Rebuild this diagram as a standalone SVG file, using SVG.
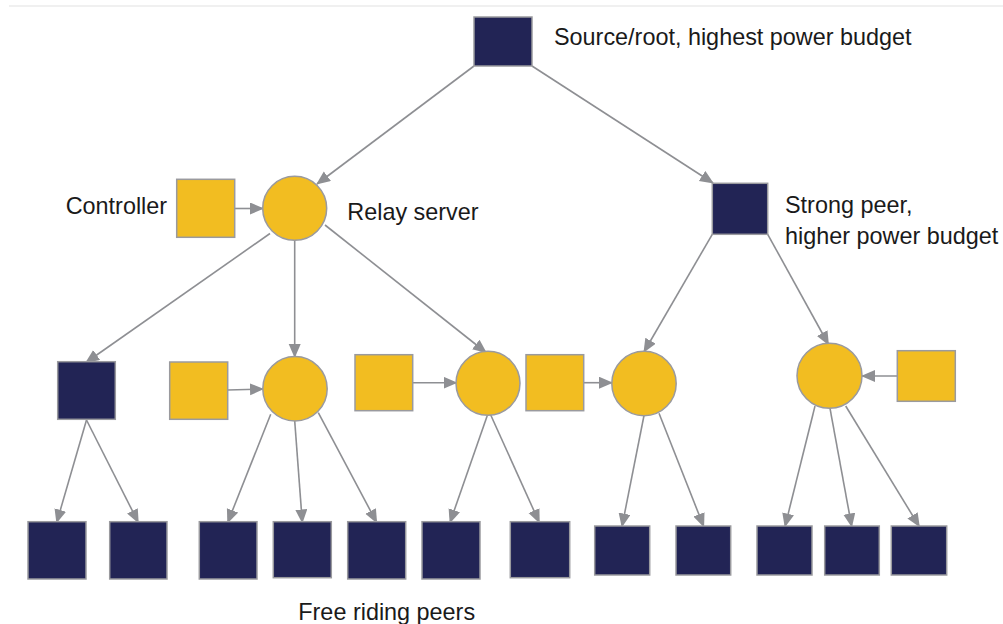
<svg xmlns="http://www.w3.org/2000/svg" width="1003" height="624" viewBox="0 0 1003 624">
  <style>
    .navy { fill: #222455; stroke: #9a9a9e; stroke-width: 1.5; }
    .gold { fill: #f2bd21; stroke: #9a9a9e; stroke-width: 1.5; }
    .edge { fill: none; stroke: #8e8f93; stroke-width: 1.6; marker-end: url(#arrow); }
    .label { font-family: "Liberation Sans", Arial, sans-serif; font-size: 23.4px; fill: #1a1a1a; }
  </style>
  <defs>
    <marker id="arrow" markerUnits="userSpaceOnUse" markerWidth="15" markerHeight="13" refX="13" refY="6" orient="auto">
      <path d="M0,0 L14,6 L0,12 z" fill="#8e8f93"/>
    </marker>
  </defs>

  <rect width="1003" height="624" fill="#ffffff"/>
  <line x1="9" y1="6" x2="1003" y2="6" stroke="#f0f0f0" stroke-width="2"/>

  <!-- connectors -->
  <g id="connectors">
    <!-- from the root -->
    <line class="edge" x1="474" y1="66" x2="317" y2="184"/>
    <line class="edge" x1="532" y1="66" x2="713" y2="183"/>
    <!-- controllers into relays -->
    <line class="edge" x1="234.7" y1="208.5" x2="263" y2="208.5"/>
    <line class="edge" x1="227.7" y1="390" x2="263" y2="389"/>
    <line class="edge" x1="412.7" y1="382.7" x2="456.5" y2="382.7"/>
    <line class="edge" x1="583.7" y1="382.7" x2="612" y2="382.7"/>
    <line class="edge" x1="897.3" y1="376" x2="862" y2="376"/>
    <!-- relay server fan-out -->
    <line class="edge" x1="270" y1="233.5" x2="86" y2="362.5"/>
    <line class="edge" x1="294.7" y1="240.5" x2="294.7" y2="357"/>
    <line class="edge" x1="325" y1="225" x2="486" y2="352.5"/>
    <!-- strong peer fan-out -->
    <line class="edge" x1="712.3" y1="234.3" x2="644" y2="352"/>
    <line class="edge" x1="767.7" y1="234.3" x2="828.5" y2="344.5"/>
    <!-- down to the free riding peers -->
    <line class="edge" x1="86.5" y1="420" x2="56.7" y2="522.5"/>
    <line class="edge" x1="86.5" y1="420" x2="138.3" y2="522.5"/>
    <line class="edge" x1="270.7" y1="414.3" x2="227.7" y2="522.5"/>
    <line class="edge" x1="294.7" y1="420.7" x2="302.3" y2="522.5"/>
    <line class="edge" x1="318.3" y1="412.7" x2="376.7" y2="522.5"/>
    <line class="edge" x1="487.3" y1="415.5" x2="450" y2="522.5"/>
    <line class="edge" x1="490.5" y1="414.5" x2="539.3" y2="522.5"/>
    <line class="edge" x1="644" y1="415.5" x2="622" y2="526.5"/>
    <line class="edge" x1="659" y1="413.3" x2="703.7" y2="526.5"/>
    <line class="edge" x1="815" y1="406" x2="785" y2="526.5"/>
    <line class="edge" x1="830" y1="408.3" x2="851.7" y2="526.5"/>
    <line class="edge" x1="845.7" y1="406" x2="919.3" y2="526.5"/>
  </g>

  <!-- top tiers -->
  <g id="root"><rect class="navy" x="474" y="17" width="58" height="49"/></g>
  <g id="strong-peer"><rect class="navy" x="712.3" y="183.3" width="55.4" height="51"/></g>
  <g id="controller-1"><rect class="gold" x="176.7" y="179.3" width="58" height="58"/></g>
  <g id="relay-1"><circle class="gold" cx="294.7" cy="208.3" r="32"/></g>

  <!-- middle tier -->
  <g id="peer-mid"><rect class="navy" x="57.7" y="361.7" width="57.6" height="57.6"/></g>
  <g id="controller-2"><rect class="gold" x="169.7" y="362" width="58" height="57.3"/></g>
  <g id="relay-2"><circle class="gold" cx="295" cy="388.7" r="32.2"/></g>
  <g id="controller-3"><rect class="gold" x="355" y="354.7" width="57.7" height="56"/></g>
  <g id="relay-3"><circle class="gold" cx="488" cy="383.3" r="32"/></g>
  <g id="controller-4"><rect class="gold" x="526" y="354.7" width="57.7" height="56"/></g>
  <g id="relay-4"><circle class="gold" cx="644" cy="383.5" r="32.2"/></g>
  <g id="relay-5"><circle class="gold" cx="829.5" cy="375.8" r="32.5"/></g>
  <g id="controller-5"><rect class="gold" x="897.3" y="350.7" width="58" height="50.6"/></g>

  <!-- free riding peers -->
  <g id="free-1"><rect class="navy" x="28" y="521.7" width="58" height="57.3"/></g>
  <g id="free-2"><rect class="navy" x="109.7" y="521.7" width="57.3" height="57.3"/></g>
  <g id="free-3"><rect class="navy" x="199.3" y="521.7" width="57.7" height="57.3"/></g>
  <g id="free-4"><rect class="navy" x="273.3" y="521.7" width="58" height="56"/></g>
  <g id="free-5"><rect class="navy" x="347.7" y="521.7" width="58" height="57.3"/></g>
  <g id="free-6"><rect class="navy" x="422" y="521.7" width="58" height="57.3"/></g>
  <g id="free-7"><rect class="navy" x="510.3" y="521.7" width="59.4" height="56"/></g>
  <g id="free-8"><rect class="navy" x="594.7" y="526" width="55" height="49"/></g>
  <g id="free-9"><rect class="navy" x="676" y="526" width="54.7" height="49"/></g>
  <g id="free-10"><rect class="navy" x="757" y="526" width="55" height="49"/></g>
  <g id="free-11"><rect class="navy" x="824.7" y="526" width="54.6" height="49"/></g>
  <g id="free-12"><rect class="navy" x="891.3" y="526" width="55.4" height="49"/></g>

  <!-- labels -->
  <g id="labels">
    <text class="label" x="554" y="45">Source/root, highest power budget</text>
    <text class="label" x="65.7" y="214.3">Controller</text>
    <text class="label" x="347.3" y="220">Relay server</text>
    <text class="label" x="785" y="213.3">Strong peer,</text>
    <text class="label" x="785" y="244">higher power budget</text>
    <text class="label" x="298.3" y="620">Free riding peers</text>
  </g>
</svg>
